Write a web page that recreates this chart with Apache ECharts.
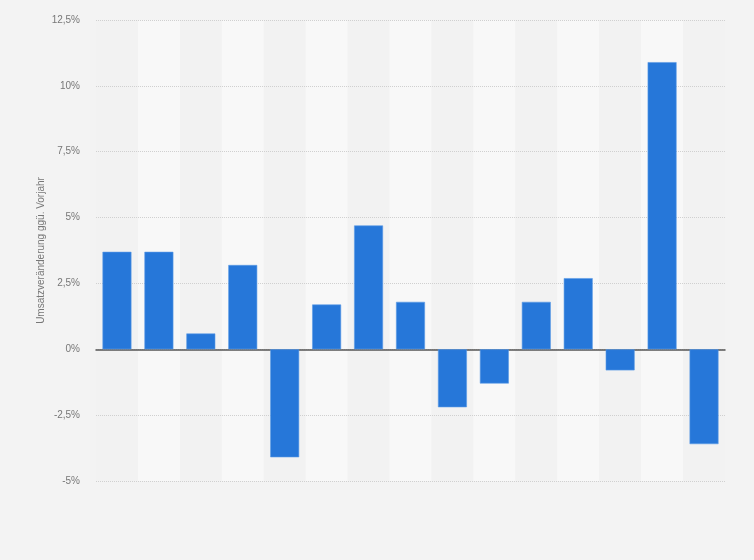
<!DOCTYPE html>
<html>
<head>
<meta charset="utf-8">
<script src="https://cdn.jsdelivr.net/npm/echarts@6/dist/echarts.min.js"></script>
<style>html,body{margin:0;padding:0;background:#f3f3f3;}#c{width:754px;height:560px;}</style>
</head>
<body>
<div id="c"></div>
<script>
var categories = ['1','2','3','4','5','6','7','8','9','10','11','12','13','14','15'];
var values = [3.7, 3.7, 0.6, 3.2, -4.1, 1.7, 4.7, 1.8, -2.2, -1.3, 1.8, 2.7, -0.8, 10.9, -3.6];
var yAxisTitle = 'Umsatzveränderung ggü. Vorjahr';

var chart = echarts.init(document.getElementById('c'));
chart.setOption({
  backgroundColor: '#f3f3f3',
  animation: false,
  grid: {left: 96, right: 29, top: 20, bottom: 79},
  xAxis: [{
    type: 'category',
    data: categories,
    z: 3,
    axisLine: {onZero: true, lineStyle: {color: '#555', width: 1.5}},
    axisTick: {show: false},
    axisLabel: {show: false},
    splitArea: {show: false}
  }, {
    type: 'category',
    data: categories,
    z: 0,
    position: 'bottom',
    axisLine: {show: false, onZero: false},
    axisTick: {show: false},
    axisLabel: {show: false},
    splitArea: {show: true, areaStyle: {color: ['#f2f2f2', '#f8f8f8']}}
  }],
  yAxis: {
    type: 'value',
    min: -5, max: 12.5, interval: 2.5,
    z: 1,
    name: yAxisTitle,
    nameLocation: 'middle',
    nameGap: 50,
    nameMoveOverlap: false,
    nameTextStyle: {color: '#777', fontSize: 10, fontFamily: 'Arial, Liberation Sans, sans-serif'},
    axisLine: {show: false},
    axisTick: {show: false},
    axisLabel: {
      color: '#777', fontSize: 10, margin: 16,
      fontFamily: 'Arial, Liberation Sans, sans-serif',
      formatter: function (v) { return String(v).replace('.', ',') + '%'; }
    },
    splitLine: {lineStyle: {color: '#d0d0d0', type: 'dotted', width: 1}}
  },
  series: [{
    type: 'bar',
    data: values,
    xAxisIndex: 0,
    z: 4,
    barWidth: '69%',
    itemStyle: {color: '#2677d9', borderColor: '#5a9ae6', borderWidth: 0.6}
  }]
});
</script>
</body>
</html>
